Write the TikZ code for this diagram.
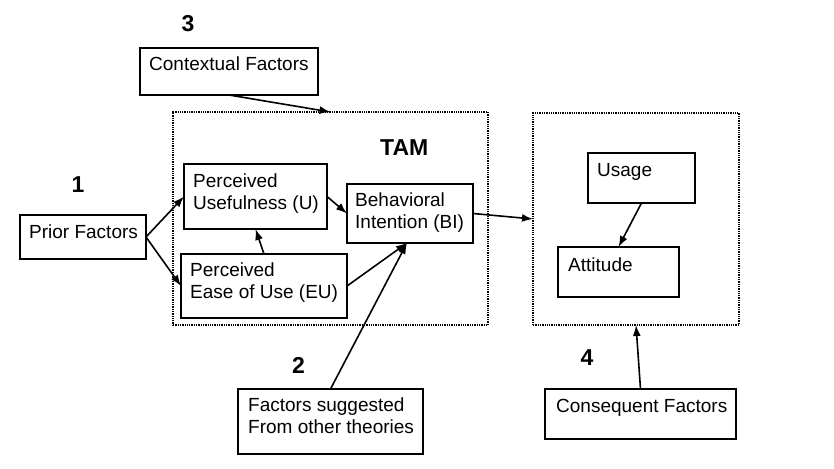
\documentclass[tikz,border=0pt]{standalone}
\usepackage{fontspec}
\setmainfont{Liberation Sans}
\usetikzlibrary{arrows.meta}
\begin{document}
\begin{tikzpicture}[x=1pt,y=-1pt,
  every node/.style={font=\fontsize{19}{22}\selectfont},
  box/.style={draw, line width=1.8pt, inner sep=0pt, outer sep=0pt},
  group/.style={draw, densely dotted, line width=1.3pt, inner sep=0pt, outer sep=0pt},
  lbl/.style={anchor=base west, inner sep=0pt, align=left},
  num/.style={anchor=base, inner sep=0pt, font=\fontsize{23}{26}\selectfont\bfseries},
  link/.style={line width=1.6pt, -{Latex[length=11pt,width=8pt]}}
]
\useasboundingbox (0,0) rectangle (834,468);

% grouping frames
\node[group, minimum width=315pt, minimum height=213pt] (tam) at (330.5,218.5) {};
\node[group, minimum width=206pt, minimum height=212pt] (out) at (636,219) {};

% boxes
\node[box, minimum width=178pt, minimum height=47pt] (ctx) at (229,71.5) {};
\node[box, minimum width=126pt, minimum height=44pt] (pf) at (83,237) {};
\node[box, minimum width=143pt, minimum height=65pt] (pu) at (255.5,196.5) {};
\node[box, minimum width=126pt, minimum height=59pt] (bi) at (410,213.5) {};
\node[box, minimum width=166pt, minimum height=64pt] (eu) at (264,286) {};
\node[box, minimum width=185pt, minimum height=65pt] (fs) at (330.5,421.5) {};
\node[box, minimum width=107pt, minimum height=50pt] (usage) at (641.5,178) {};
\node[box, minimum width=121pt, minimum height=50pt] (att) at (618.5,272) {};
\node[box, minimum width=191pt, minimum height=50pt] (cons) at (640.5,414) {};

% texts (base anchor of a two-line node sits on its last line)
\node[lbl] (tctx) at (149,71) {Contextual Factors};
\node[lbl] (tpf) at (29,238) {Prior Factors};
\node[lbl] (tpu) at (193,209) {Perceived\\Usefulness (U)};
\node[lbl] (tbi) at (355,228) {Behavioral\\Intention (BI)};
\node[lbl] (teu) at (190,298) {Perceived\\Ease of Use (EU)};
\node[lbl] (tfs) at (248,433) {Factors suggested\\From other theories};
\node[lbl] (tusage) at (597,176) {Usage};
\node[lbl] (tatt) at (568,271) {Attitude};
\node[lbl] (tcons) at (556,412) {Consequent Factors};

\node[num] (n3) at (188,32) {3};
\node[num] (n1) at (78,192) {1};
\node[num] (n2) at (298.5,373) {2};
\node[num] (n4) at (587,365) {4};
\node[num, anchor=base west] (ttam) at (380,155) {TAM};

% connectors
\draw[link] (ctx.south) -- (tam.north);
\draw[link] (pf.east) -- (pu.west);
\draw[link] (pf.east) -- (eu.west);
\draw[link] (eu.north) -- (pu.south);
\draw[link] (pu.east) -- (bi.west);
\draw[link] (eu.east) -- ([xshift=-3pt]bi.south);
\draw[link] (fs.north) -- ([xshift=-3pt]bi.south);
\draw[link] (bi.east) -- (out.west);
\draw[link] (usage.south) -- (att.north);
\draw[link] (cons.north) -- (out.south);
\end{tikzpicture}
\end{document}
